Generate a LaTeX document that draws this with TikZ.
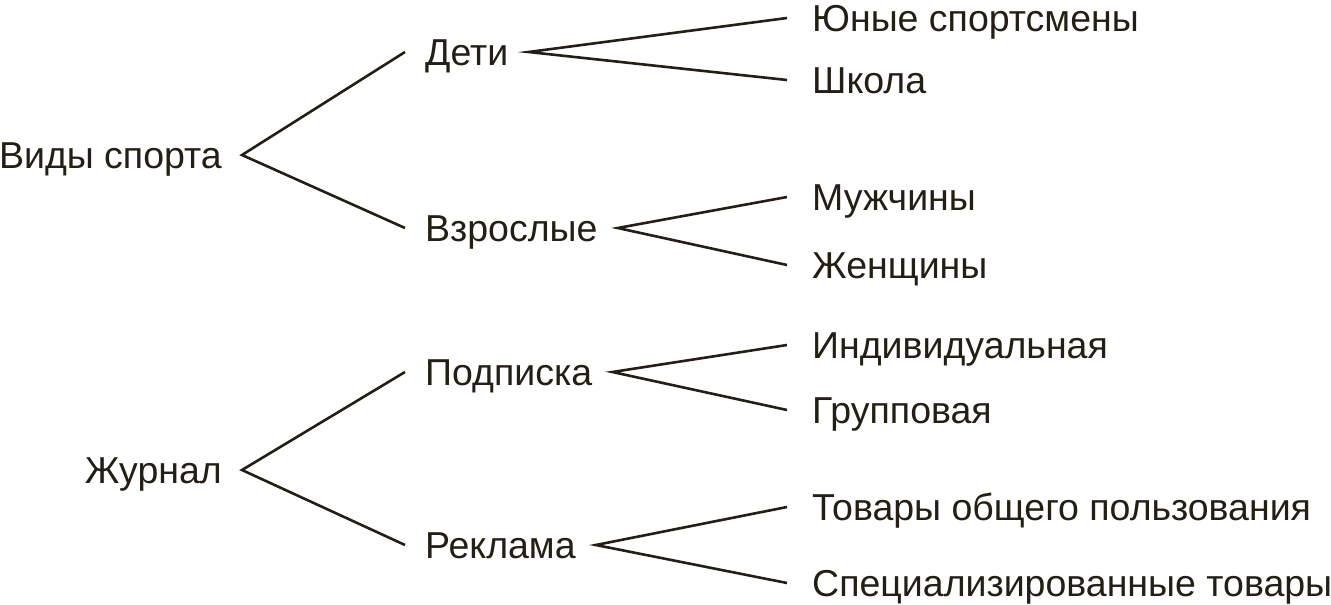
\documentclass[tikz,border=0pt]{standalone}
\usepackage{fontspec}
\setmainfont{Liberation Sans}
\usepackage{tikz}
\usetikzlibrary{positioning}
\definecolor{ink}{RGB}{35,31,20}
\tikzstyle{topic} = [text=ink,font=\fontsize{37.5}{40}\selectfont,text height=26.8pt,text depth=0pt,inner ysep=0pt,inner xsep=20pt,anchor=east]
\tikzstyle{group} = [topic,anchor=west]
\tikzstyle{item} = [topic,anchor=west,inner xsep=25pt]
\tikzstyle{branch} = [draw=ink,line width=2.6pt,line join=miter]

\begin{document}
\begin{tikzpicture}[x=1pt,y=-1pt]
			      \useasboundingbox (0,0) rectangle (1331,605);
			      \node (sport)[topic] at (242,155) {Виды спорта};
			      \node (mag)[topic] at (242,470) {Журнал};

			      \node (kids)[group] at (405,52) {Дети};
			      \node (adults)[group] at (405,228) {Взрослые};
			      \node (subs)[group] at (405,372) {Подписка};
			      \node (ads)[group] at (405,545) {Реклама};

			      \node (young)[item] at (787,18) {Юные спортсмены};
			      \node (school)[item] at (787,80) {Школа};
			      \node (men)[item] at (787,197) {Мужчины};
			      \node (women)[item] at (787,265) {Женщины};
			      \node (single)[item] at (787,345) {Индивидуальная};
			      \node (team)[item] at (787,410) {Групповая};
			      \node (general)[item] at (787,507) {Товары общего пользования};
			      \node (special)[item] at (787,583) {Специализированные товары};

			      \draw[branch] (kids.west) -- (sport.east) -- (adults.west);
			      \draw[branch] (subs.west) -- (mag.east) -- (ads.west);
			      \draw[branch] (young.west) -- (kids.east) -- (school.west);
			      \draw[branch] (men.west) -- (adults.east) -- (women.west);
			      \draw[branch] (single.west) -- (subs.east) -- (team.west);
			      \draw[branch] (general.west) -- (ads.east) -- (special.west);
		      \end{tikzpicture}
\end{document}
